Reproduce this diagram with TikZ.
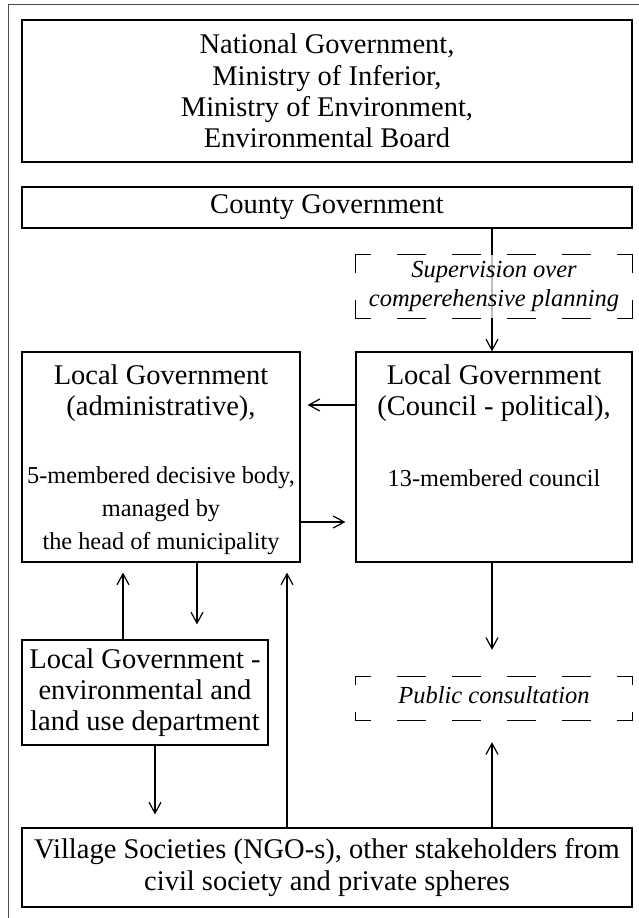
\documentclass[tikz,border=0pt]{standalone}
\usepackage{fontspec}
\setmainfont{Liberation Serif}
\usetikzlibrary{arrows.meta}

\tikzset{
  box/.style={draw, line width=1.2pt, inner sep=0pt},
  halfdash/.style={line width=1.2pt, line cap=rect, dash pattern=on 27pt off 28pt, dash phase=41pt},
  main/.style={font=\fontsize{28.5}{31.3}\selectfont, align=center},
  small/.style={font=\fontsize{24.3}{33}\selectfont, align=center},
  note/.style={font=\fontsize{24.5}{29}\selectfont\itshape, align=center},
  arr/.style={-{Straight Barb[length=11pt,width=12pt]}, line width=1.2pt}
}

% dashed frame, drawn from the middle of each side out to the corners
\newcommand{\dashframe}[1]{
  \draw[halfdash] (#1.north) -- (#1.north west) (#1.north) -- (#1.north east)
                  (#1.south) -- (#1.south west) (#1.south) -- (#1.south east)
                  (#1.west) -- (#1.north west) (#1.west) -- (#1.south west)
                  (#1.east) -- (#1.north east) (#1.east) -- (#1.south east);
}

\begin{document}
\begin{tikzpicture}[x=1pt, y=-1pt]
\useasboundingbox (0,0) rectangle (639,918);

% frame round the figure
\draw[line width=0.8pt, black!70] (8,918) -- (8,4) -- (639,4);

% top boxes
\node[box, main, minimum width=610pt, minimum height=142pt] (natl) at (327,91)
  {National Government,\\Ministry of Inferior,\\Ministry of Environment,\\Environmental Board};
\node[box, main, minimum width=610pt, minimum height=41pt] (county) at (327,207.5) {County Government};

% local government boxes
\node[box, minimum width=278pt, minimum height=210pt] (admin) at (161,457) {};
\node[main] (admintop) at (161,393) {Local Government\\(administrative),};
\node[small] (adminbot) at (161,511) {5-membered decisive body,\\managed by\\the head of municipality};

\node[box, minimum width=276pt, minimum height=210pt] (council) at (494,457) {};
\node[main] (counciltop) at (494,393) {Local Government\\(Council - political),};
\node[small] (councilbot) at (494,478) {13-membered council};

% department and stakeholders
\node[box, main, minimum width=246pt, minimum height=105pt] (envdept) at (145,692.5)
  {Local Government -\\environmental and\\land use department};
\node[box, main, minimum width=610pt, minimum height=79pt] (village) at (327,867.5)
  {Village Societies (NGO-s), other stakeholders from\\civil society and private spheres};

% dashed boxes
\node[inner sep=0pt, minimum width=276pt, minimum height=43pt] (public) at (494,698.5) {};
\dashframe{public}
\node[note] (publictxt) at (494,695) {Public consultation};

% county -> council, through the supervision box
\draw[arr] (county.south -| 492,0) -- (council.north -| 492,0);
\node[fill=white, fill opacity=0.75, inner sep=0pt, minimum width=276pt, minimum height=63pt] (superv) at (494,286.5) {};
\dashframe{superv}
\node[note] (supervtxt) at (494,286) {Supervision over\\comperehensive planning};

% arrows between the local government boxes
\draw[arr, shorten >=7pt] (council.west |- 0,405) -- (admin.east |- 0,405);
\draw[arr, shorten >=10pt] (admin.east |- 0,522) -- (council.west |- 0,522);

% department <-> administration
\draw[arr, shorten >=10pt] (envdept.north -| 123,0) -- (admin.south -| 123,0);
\draw[arr, shorten >=15pt] (admin.south -| 197,0) -- (envdept.north -| 197,0);

% to and from the stakeholders
\draw[arr, shorten >=13pt] (envdept.south -| 155,0) -- (village.north -| 155,0);
\draw[arr, shorten >=10pt] (village.north -| 287,0) -- (admin.south -| 287,0);
\draw[arr, shorten >=27pt] (council.south -| 492,0) -- (public.north -| 492,0);
\draw[arr, shorten >=22pt] (village.north -| 492,0) -- (public.south -| 492,0);

\end{tikzpicture}
\end{document}
